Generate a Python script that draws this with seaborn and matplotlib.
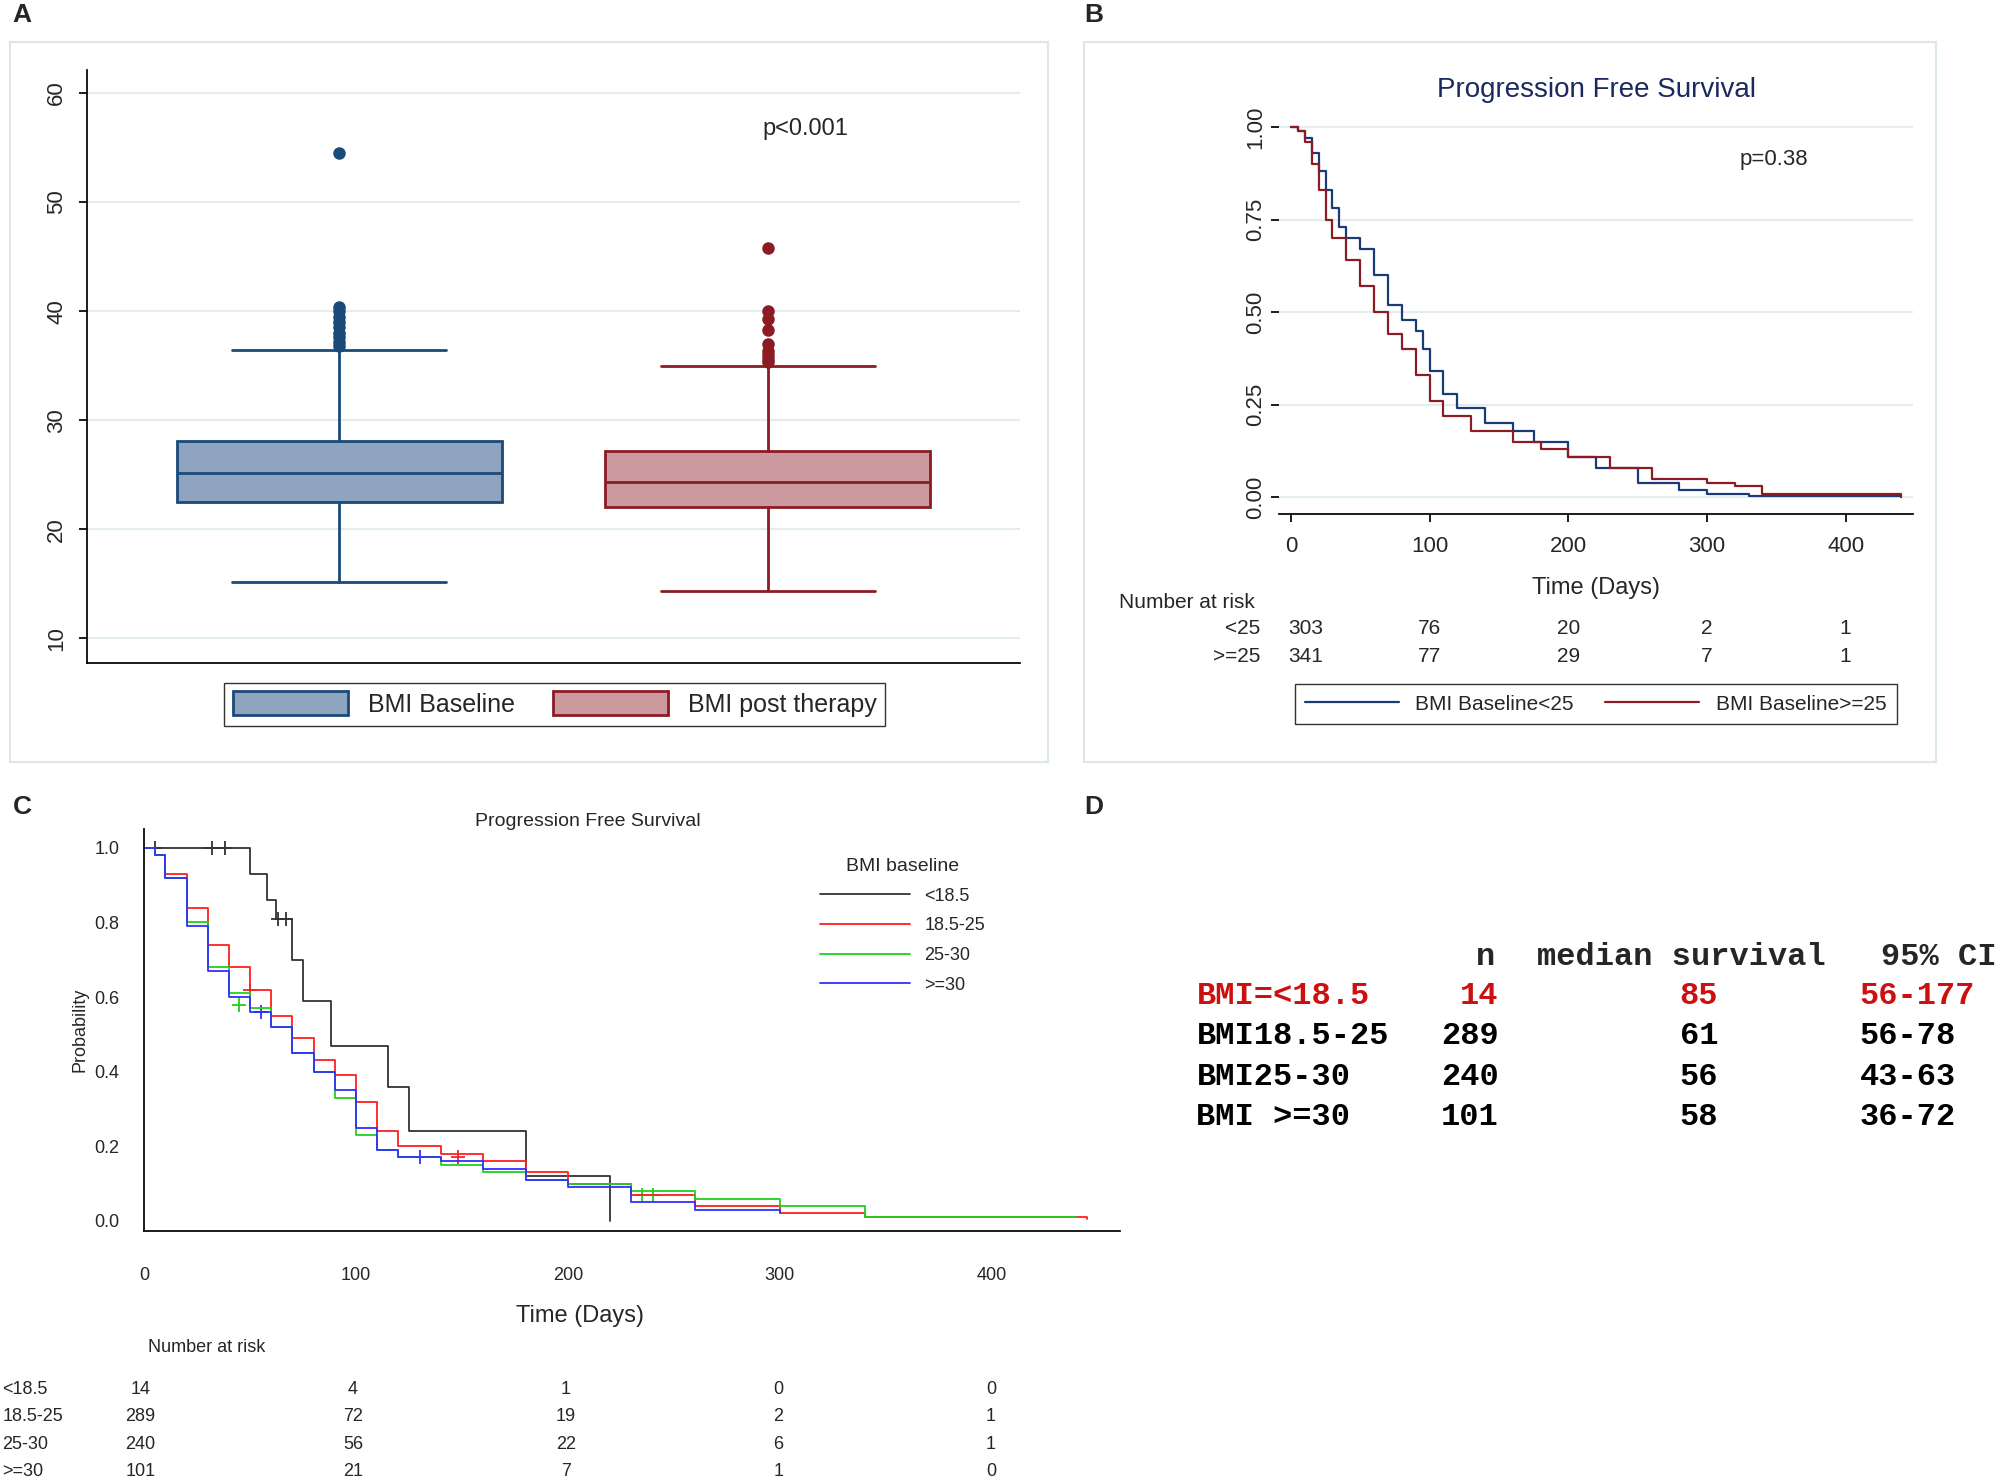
import matplotlib
matplotlib.use("Agg")
import matplotlib.pyplot as plt
import seaborn as sns
import pandas as pd
from matplotlib.patches import Rectangle
from matplotlib.lines import Line2D

sns.set_theme(style="white")
plt.rcParams['font.family'] = ['Liberation Sans Narrow', 'Liberation Sans', 'DejaVu Sans']

# ---------- data ----------
box_groups = ["BMI Baseline", "BMI post therapy"]
box_whislo = [15.2, 14.3]
box_q1 = [22.5, 22.0]
box_med = [25.2, 24.3]
box_q3 = [28.1, 27.2]
box_whishi = [36.4, 35.0]
fliers_baseline = [36.8, 37.2, 37.6, 38.0, 38.5, 39.0, 39.5, 40.0, 40.4, 54.5]
fliers_post = [35.3, 35.6, 36.0, 36.3, 37.0, 38.3, 39.3, 40.0, 45.8]

b_t_lt25 = [0, 5, 10, 15, 20, 25, 30, 35, 40, 50, 60, 70, 80, 90, 95, 100, 110, 120, 140, 160, 175, 200, 220, 250, 280, 300, 330, 440]
b_s_lt25 = [1, .99, .97, .93, .88, .83, .78, .73, .70, .67, .60, .52, .48, .45, .40, .34, .28, .24, .20, .18, .15, .11, .08, .04, .02, .01, .005, 0.0]
b_t_ge25 = [0, 5, 10, 15, 20, 25, 30, 40, 50, 60, 70, 80, 90, 100, 110, 130, 160, 180, 200, 230, 260, 300, 320, 340, 440]
b_s_ge25 = [1, .99, .96, .90, .83, .75, .70, .64, .57, .50, .44, .40, .33, .26, .22, .18, .15, .13, .11, .08, .05, .04, .03, .01, 0.0]
risk_b_times = [0, 100, 200, 300, 400]
risk_b_lt25 = [303, 76, 20, 2, 1]
risk_b_ge25 = [341, 77, 29, 7, 1]

c_t_under = [0, 50, 58, 62, 70, 75, 88, 115, 125, 180, 220]
c_s_under = [1, .93, .86, .81, .70, .59, .47, .36, .24, .12, 0.0]
c_t_n = [0, 5, 10, 20, 30, 40, 50, 60, 70, 80, 90, 100, 110, 120, 140, 160, 180, 200, 230, 260, 300, 340, 445]
c_s_n = [1, .98, .93, .84, .74, .68, .62, .55, .49, .43, .39, .32, .24, .20, .18, .16, .13, .10, .07, .04, .02, .01, .005]
c_t_ov = [0, 5, 10, 20, 30, 40, 50, 60, 70, 80, 90, 100, 110, 120, 140, 160, 180, 200, 230, 260, 300, 340, 440]
c_s_ov = [1, .98, .92, .80, .68, .61, .57, .52, .45, .40, .33, .23, .19, .17, .15, .13, .11, .10, .08, .06, .04, .01, .01]
c_t_ob = [0, 5, 10, 20, 30, 40, 50, 60, 70, 80, 90, 100, 110, 120, 140, 160, 180, 200, 230, 260, 300]
c_s_ob = [1, .98, .92, .79, .67, .60, .56, .52, .45, .40, .35, .25, .19, .17, .16, .14, .11, .09, .05, .03, .02]
cens_under_t = [5, 32, 38, 63, 67]
cens_under_s = [1, 1, 1, .81, .81]
cens_n_t = [50, 148]
cens_n_s = [.62, .17]
cens_ov_t = [45, 235, 240]
cens_ov_s = [.58, .07, .07]
cens_ob_t = [55, 130]
cens_ob_s = [.56, .17]
risk_c_groups = ["<18.5", "18.5-25", "25-30", ">=30"]
risk_c_times = [0, 100, 200, 300, 400]
risk_c_vals = [[14, 4, 1, 0, 0], [289, 72, 19, 2, 1], [240, 56, 22, 6, 1], [101, 21, 7, 1, 0]]

d_rows = ["BMI=<18.5", "BMI18.5-25", "BMI25-30", "BMI >=30"]
d_n = [14, 289, 240, 101]
d_med = [85, 61, 56, 58]
d_ci = ["56-177", "56-78", "43-63", "36-72"]

# ---------- layout helpers ----------
W, H = 1568.0, 1161.0
fig = plt.figure(figsize=(20, 14.81), dpi=100)

def rect(x0, y0, x1, y1):
    return [x0 / W, 1 - y1 / H, (x1 - x0) / W, (y1 - y0) / H]

def ftext(x, y, s, **kw):
    fig.text(x / W, 1 - y / H, s, **kw)

for lab, x, y in [("A", 10, 12), ("B", 850, 12), ("C", 10, 633), ("D", 850, 633)]:
    ftext(x, y, lab, fontsize=19, fontweight="bold", va="center", family=["Liberation Sans", "DejaVu Sans"])

for (x0, y0, x1, y1) in [(8, 33, 822, 597), (850, 33, 1518, 597)]:
    fig.patches.append(Rectangle((x0 / W, 1 - y1 / H), (x1 - x0) / W, (y1 - y0) / H,
                                 transform=fig.transFigure, fill=False, ec="#dbe7ea", lw=1.5))

# ---------- Panel A ----------
axA = fig.add_axes(rect(68, 55, 800, 520))
blue_e, blue_f = "#1a4a7a", "#8fa5bf"
red_e, red_f = "#8b1c24", "#cc9a9e"
stats = []
for i, fl in enumerate([fliers_baseline, fliers_post]):
    stats.append(dict(whislo=box_whislo[i], q1=box_q1[i], med=box_med[i], q3=box_q3[i],
                      whishi=box_whishi[i], fliers=fl, label=box_groups[i]))
for i, (ec, fc) in enumerate([(blue_e, blue_f), (red_e, red_f)]):
    axA.bxp([stats[i]], positions=[i], widths=0.76, patch_artist=True, manage_ticks=False,
            boxprops=dict(facecolor=fc, edgecolor=ec, lw=2),
            medianprops=dict(color=ec, lw=2), whiskerprops=dict(color=ec, lw=2),
            capprops=dict(color=ec, lw=2), capwidths=0.5,
            flierprops=dict(marker="o", markerfacecolor=ec, markeredgecolor=ec, markersize=8))
axA.set_xlim(-0.59, 1.59)
axA.set_ylim(7.7, 62.1)
axA.set_yticks([10, 20, 30, 40, 50, 60])
axA.set_yticklabels([10, 20, 30, 40, 50, 60], rotation=90, va="center", fontsize=16)
axA.set_xticks([])
axA.grid(axis="y", color="#e3ecee", lw=1.5)
axA.set_axisbelow(True)
for s in ["top", "right"]:
    axA.spines[s].set_visible(False)
for s in ["left", "bottom"]:
    axA.spines[s].set_color("black")
axA.tick_params(axis="y", length=6, color="black", left=True, pad=8)
axA.text(0.77, 0.89, "p<0.001", transform=axA.transAxes, fontsize=17, ha="center")
hA = [Rectangle((0, 0), 1, 1, fc=blue_f, ec=blue_e, lw=2), Rectangle((0, 0), 1, 1, fc=red_f, ec=red_e, lw=2)]
fig.legend(hA, box_groups, loc="center", bbox_to_anchor=(435 / W, 1 - 552 / H), ncol=2,
           fontsize=18, frameon=True, fancybox=False, edgecolor="black", handlelength=4.6,
           handleheight=1.1, columnspacing=1.5, borderpad=0.35)

# ---------- Panel B ----------
axB = fig.add_axes(rect(1003, 85, 1500, 403))
bl, rd = "#1a3a78", "#8b1c24"
dfb1 = pd.DataFrame({"t": b_t_lt25, "s": b_s_lt25})
dfb2 = pd.DataFrame({"t": b_t_ge25, "s": b_s_ge25})
sns.lineplot(data=dfb1, x="t", y="s", ax=axB, color=bl, lw=1.6, drawstyle="steps-post", estimator=None)
sns.lineplot(data=dfb2, x="t", y="s", ax=axB, color=rd, lw=1.6, drawstyle="steps-post", estimator=None)
axB.set_xlim(-8.3, 448.7)
axB.set_ylim(-0.045, 1.05)
axB.set_yticks([0, .25, .5, .75, 1])
axB.set_yticklabels(["0.00", "0.25", "0.50", "0.75", "1.00"], rotation=90, va="center", fontsize=16)
axB.set_xticks([0, 100, 200, 300, 400])
axB.tick_params(axis="both", labelsize=16, length=6, color="black", left=True, bottom=True)
axB.tick_params(axis="x", pad=10)
axB.grid(axis="y", color="#e3ecee", lw=1.5)
axB.set_xlabel("Time (Days)", fontsize=17, labelpad=14)
axB.set_ylabel("")
for s in ["top", "right", "left"]:
    axB.spines[s].set_visible(False)
axB.spines["bottom"].set_color("black")
axB.set_title("Progression Free Survival", fontsize=20, color="#1a2a60", pad=8)
axB.text(0.78, 0.86, "p=0.38", transform=axB.transAxes, fontsize=16, ha="center")
ftext(877, 472, "Number at risk", fontsize=15, va="center")
for lab, vals, y in [("<25", risk_b_lt25, 493), (">=25", risk_b_ge25, 515)]:
    ftext(988, y, lab, fontsize=15, va="center", ha="right")
    for t, v in zip(risk_b_times, vals):
        xp = 1012 + t * 1.0875 + (12 if t == 0 else 0)
        ftext(xp, y, str(v), fontsize=15, va="center", ha="center")
hB = [Line2D([], [], color=bl, lw=1.6), Line2D([], [], color=rd, lw=1.6)]
fig.legend(hB, ["BMI Baseline<25", "BMI Baseline>=25"], loc="center", bbox_to_anchor=(1251 / W, 1 - 552 / H),
           ncol=2, fontsize=15, frameon=True, fancybox=False, edgecolor="black", handlelength=4.5,
           columnspacing=1.5, borderpad=0.5)

# ---------- Panel C ----------
axC = fig.add_axes(rect(113, 650, 878, 965))
curves = [(c_t_under, c_s_under, "#333333", cens_under_t, cens_under_s),
          (c_t_n, c_s_n, "#ff2020", cens_n_t, cens_n_s),
          (c_t_ov, c_s_ov, "#20d020", cens_ov_t, cens_ov_s),
          (c_t_ob, c_s_ob, "#3030ff", cens_ob_t, cens_ob_s)]
for t, s, c, ct, cs in curves:
    sns.lineplot(data=pd.DataFrame({"t": t, "s": s}), x="t", y="s", ax=axC, color=c, lw=1.3,
                 drawstyle="steps-post", estimator=None)
    sns.scatterplot(data=pd.DataFrame({"t": ct, "s": cs}), x="t", y="s", ax=axC, color=c, marker="+",
                    s=90, linewidth=1.3)
axC.set_xlim(1.8, 460.5)
axC.set_ylim(-0.027, 1.05)
axC.set_xticks([0, 100, 200, 300, 400])
axC.set_yticks([0, .2, .4, .6, .8, 1.0])
axC.set_yticklabels(["0.0", "0.2", "0.4", "0.6", "0.8", "1.0"])
axC.tick_params(labelsize=13, length=0, left=True, bottom=True)
axC.tick_params(axis="x", pad=26)
axC.tick_params(axis="y", pad=18)
axC.set_xlabel("")
ftext(455, 1032, "Time (Days)", fontsize=17, ha="center", va="center")
axC.set_ylabel("Probability", fontsize=13)
for s in ["top", "right"]:
    axC.spines[s].set_visible(False)
for s in ["left", "bottom"]:
    axC.spines[s].set_color("black")
ftext(461, 644, "Progression Free Survival", fontsize=14, ha="center", va="center")
hC = [Line2D([], [], color=c[2], lw=1.3) for c in curves]
fig.legend(hC, risk_c_groups, loc="upper left", bbox_to_anchor=(630 / W, 1 - 660 / H),
           title="BMI baseline", fontsize=13, title_fontsize=14, frameon=False,
           handlelength=5, labelspacing=0.7)
ftext(116, 1056, "Number at risk", fontsize=13, va="center")
for gi, (g, vals) in enumerate(zip(risk_c_groups, risk_c_vals)):
    y = 1089 + gi * 21.5
    ftext(2, y, g, fontsize=13, va="center")
    for t, v in zip(risk_c_times, vals):
        ftext(110 + t * 1.6675, y, str(v), fontsize=13, va="center", ha="center")

# ---------- Panel D ----------
mono = dict(family=["Liberation Mono", "DejaVu Sans Mono"], fontweight="bold", fontsize=23, va="center")
ftext(1172, 750, "n", ha="right", **mono)
ftext(1205, 750, "median survival", ha="left", **mono)
ftext(1475, 750, "95% CI", ha="left", **mono)
for i in range(4):
    y = 781 + i * 31.5
    col = "#cc1010" if i == 0 else "black"
    ftext(938, y, d_rows[i], ha="left", color=col, **mono)
    ftext(1175, y, str(d_n[i]), ha="right", color=col, **mono)
    ftext(1332, y, str(d_med[i]), ha="center", color=col, **mono)
    ftext(1458, y, d_ci[i], ha="left", color=col, **mono)

fig.savefig("out.png", dpi=100, facecolor="white")
